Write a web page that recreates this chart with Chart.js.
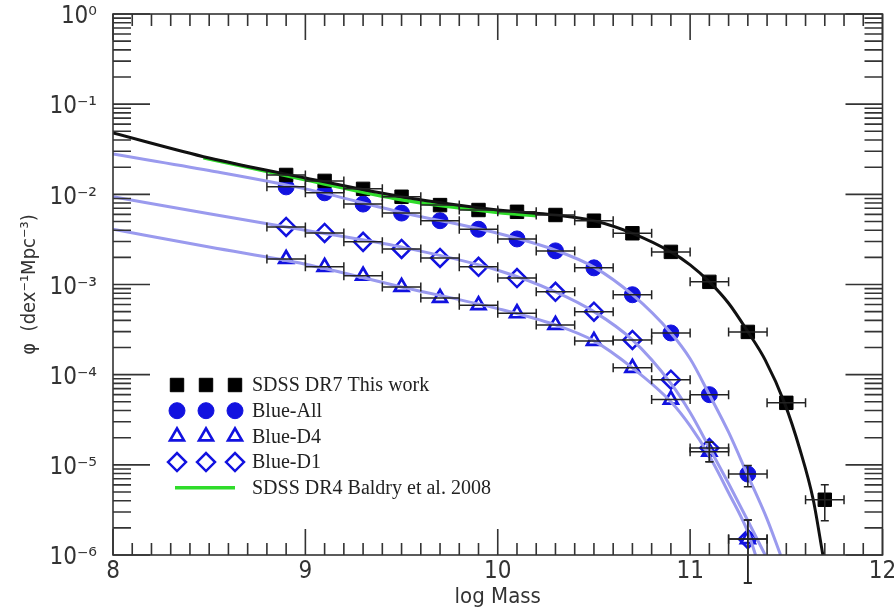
<!DOCTYPE html>
<html>
<head>
<meta charset="utf-8">
<script src="https://cdn.jsdelivr.net/npm/chart.js@4.4.1/dist/chart.umd.min.js"></script>
<style>
  html, body { margin: 0; padding: 0; background: #fff; }
  canvas { display: block; }
</style>
</head>
<body>
<canvas id="mf" width="894" height="610"></canvas>
<script>
// half width of every mass bin (dex)
const X_ERR = 0.1;

// measured mass function, SDSS DR7
const dr7Mass = [8.9, 9.1, 9.3, 9.5, 9.7, 9.9, 10.1, 10.3, 10.5, 10.7, 10.9, 11.1, 11.3, 11.5, 11.7];
const dr7Phi = [0.0164, 0.0141, 0.0115, 0.0094, 0.0076, 0.0067, 0.0064, 0.0059, 0.0051, 0.0037,
                0.0023, 0.00107, 2.98e-4, 4.87e-5, 4.1e-6];
const dr7PhiErr = [null, null, null, null, null, null, null, null, null, null,
                   null, null, null, null, [2.4e-6, 6.0e-6]];

// blue galaxy subsamples
const blueMass = [8.9, 9.1, 9.3, 9.5, 9.7, 9.9, 10.1, 10.3, 10.5, 10.7, 10.9, 11.1, 11.3];
const blueAllPhi = [0.0121, 0.0104, 0.0078, 0.0062, 0.0051, 0.0041, 0.0032, 0.00236, 0.00153,
                    7.7e-4, 2.9e-4, 6.0e-5, 7.9e-6];
const blueAllErr = [null, null, null, null, null, null, null, null, null, null, null, null,
                    [5.7e-6, 9.8e-6]];
const blueD4Phi = [0.00192, 0.00157, 0.00125, 9.4e-4, 7.1e-4, 5.9e-4, 4.8e-4, 3.56e-4, 2.37e-4,
                   1.19e-4, 5.3e-5, 1.4e-5, 1.5e-6];
const blueD4Err = [null, null, null, null, null, null, null, null, null, null, null,
                   [1.08e-5, 1.78e-5], [4.9e-7, 2.45e-6]];
const blueD1Phi = [0.00435, 0.00373, 0.00297, 0.00248, 0.00197, 0.00157, 0.00118, 8.3e-4, 5.0e-4,
                   2.43e-4, 8.8e-5, 1.54e-5, 1.5e-6];
const blueD1Err = [null, null, null, null, null, null, null, null, null, null, null,
                   [1.08e-5, 1.78e-5], [4.9e-7, 2.45e-6]];

// Schechter fits
const dr7FitMass = [8.0, 8.5, 9.0, 9.5, 10.0, 10.3, 10.5, 10.7, 10.9, 11.0, 11.1, 11.2, 11.3,
                    11.39, 11.49, 11.57, 11.64, 11.69];
const dr7FitPhi = [0.048, 0.0253, 0.0152, 0.0094, 0.0067, 0.0059, 0.0051, 0.0037, 0.0023, 0.00165,
                   0.00107, 6.2e-4, 3.0e-4, 1.46e-4, 4.9e-5, 1.5e-5, 4.1e-6, 1.0e-6];
const blueAllFitMass = [8.0, 8.5, 9.0, 9.5, 10.0, 10.3, 10.5, 10.7, 10.9, 11.0, 11.1, 11.2, 11.3,
                        11.4, 11.47];
const blueAllFitPhi = [0.028, 0.0184, 0.0115, 0.0063, 0.0037, 0.0024, 0.00156, 7.7e-4, 2.9e-4,
                       1.5e-4, 6.0e-5, 2.3e-5, 7.6e-6, 2.5e-6, 1.0e-6];
const blueD1FitMass = [8.0, 8.5, 9.0, 9.5, 10.0, 10.3, 10.5, 10.7, 10.9, 11.0, 11.1, 11.2, 11.3, 11.39];
const blueD1FitPhi = [0.0094, 0.0061, 0.0040, 0.0026, 0.00144, 8.3e-4, 5.0e-4, 2.43e-4, 8.0e-5,
                      3.8e-5, 1.55e-5, 6.2e-6, 2.4e-6, 1.0e-6];
const blueD4FitMass = [8.0, 8.5, 9.0, 9.5, 10.0, 10.3, 10.5, 10.7, 10.9, 11.0, 11.1, 11.2, 11.3, 11.34];
const blueD4FitPhi = [0.0041, 0.0026, 0.00168, 9.4e-4, 5.4e-4, 3.56e-4, 2.37e-4, 1.19e-4, 5.0e-5,
                      2.7e-5, 1.25e-5, 4.9e-6, 1.8e-6, 1.0e-6];

// Baldry et al. 2008 DR4 fit
const dr4FitMass = [8.47, 9.0, 9.5, 10.0, 10.2];
const dr4FitPhi = [0.0255, 0.0145, 0.0087, 0.0063, 0.0058];

const X_MIN = 8, X_MAX = 12;
const Y_MIN_EXP = -6, Y_MAX_EXP = 0;

const BLUE = '#1212e0';
const CURVE = '#9a9aee';
const GREEN = '#2fdc2a';
const AXIS_FONT = "'DejaVu Sans Condensed', 'Liberation Sans Narrow', 'DejaVu Sans', sans-serif";

function pts(xs, ys) {
    return xs.map((x, i) => ({ x: x, y: ys[i] }));
}

const SUP = { '-': '\u207B', '0': '\u2070', '1': '\u00B9', '2': '\u00B2', '3': '\u00B3',
              '4': '\u2074', '5': '\u2075', '6': '\u2076' };
function decadeLabel(v) {
    const e = String(Math.round(Math.log10(v)));
    return '10' + e.split('').map(c => SUP[c]).join('');
}

function fitLine(xs, ys, color, width, order) {
    return {
        type: 'line',
        data: pts(xs, ys),
        borderColor: color,
        borderWidth: width,
        pointRadius: 0,
        fill: false,
        cubicInterpolationMode: 'monotone',
        order: order
    };
}

function markers(label, xs, ys, errs, style) {
    return Object.assign({
        type: 'scatter',
        label: label,
        data: pts(xs, ys),
        showLine: false,
        order: 2,
        xErr: X_ERR,
        yErr: errs
    }, style);
}

const squareStyle = { pointStyle: 'rect', pointRadius: 9.5, backgroundColor: '#000', borderColor: '#000', borderWidth: 1 };
const circleStyle = { pointStyle: 'circle', pointRadius: 8, backgroundColor: BLUE, borderColor: BLUE, borderWidth: 1 };
const triangleStyle = { pointStyle: 'triangle', pointRadius: 8, backgroundColor: 'rgba(0,0,0,0)', borderColor: BLUE, borderWidth: 2.7 };
const diamondStyle = { pointStyle: 'rectRot', pointRadius: 9, backgroundColor: 'rgba(0,0,0,0)', borderColor: BLUE, borderWidth: 2.5 };

/** horizontal and vertical error bars with caps **/
const errorBars = {
    id: 'errorBars',
    afterDatasetsDraw(chart) {
        const { ctx, scales: { x, y } } = chart;
        ctx.save();
        ctx.strokeStyle = '#222';
        ctx.lineWidth = 1.5;
        chart.data.datasets.forEach((ds, di) => {
            if (!ds.xErr) return;
            const meta = chart.getDatasetMeta(di);
            meta.data.forEach((pt, i) => {
                const d = ds.data[i];
                const cx = pt.x, cy = pt.y;
                const x0 = x.getPixelForValue(d.x - ds.xErr);
                const x1 = x.getPixelForValue(d.x + ds.xErr);
                ctx.beginPath();
                ctx.moveTo(x0, cy); ctx.lineTo(x1, cy);
                ctx.moveTo(x0, cy - 4.5); ctx.lineTo(x0, cy + 4.5);
                ctx.moveTo(x1, cy - 4.5); ctx.lineTo(x1, cy + 4.5);
                const e = ds.yErr && ds.yErr[i];
                if (e) {
                    const y0 = y.getPixelForValue(e[0]);
                    const y1 = y.getPixelForValue(e[1]);
                    ctx.moveTo(cx, y0); ctx.lineTo(cx, y1);
                    ctx.moveTo(cx - 4, y0); ctx.lineTo(cx + 4, y0);
                    ctx.moveTo(cx - 4, y1); ctx.lineTo(cx + 4, y1);
                }
                ctx.stroke();
            });
        });
        ctx.restore();
    }
};

/** box with inward ticks on all four sides **/
const frameTicks = {
    id: 'frameTicks',
    afterDatasetsDraw(chart) {
        const { ctx, chartArea: a, scales: { x, y } } = chart;
        ctx.save();
        ctx.strokeStyle = '#333';
        ctx.lineWidth = 1.6;
        ctx.strokeRect(a.left, a.top, a.right - a.left, a.bottom - a.top);
        ctx.beginPath();
        for (let i = X_MIN * 10; i <= X_MAX * 10; i++) {
            const px = x.getPixelForValue(i / 10);
            const len = i % 10 === 0 ? 26 : 12;
            ctx.moveTo(px, a.bottom); ctx.lineTo(px, a.bottom - len);
            ctx.moveTo(px, a.top); ctx.lineTo(px, a.top + len);
        }
        for (let e = Y_MIN_EXP; e <= Y_MAX_EXP; e++) {
            for (let m = 1; m <= 9; m++) {
                if (e === Y_MAX_EXP && m > 1) break;
                const py = y.getPixelForValue(m * Math.pow(10, e));
                const len = m === 1 ? 37 : 18;
                ctx.moveTo(a.left, py); ctx.lineTo(a.left + len, py);
                ctx.moveTo(a.right, py); ctx.lineTo(a.right - len, py);
            }
        }
        ctx.stroke();
        ctx.restore();
    }
};

/** legend inside the plot: three markers per row, then the label **/
const legendRows = [
    { text: 'SDSS DR7 This work', style: squareStyle },
    { text: 'Blue-All', style: circleStyle },
    { text: 'Blue-D4', style: triangleStyle },
    { text: 'Blue-D1', style: diamondStyle },
    { text: 'SDSS DR4 Baldry et al. 2008', line: GREEN }
];

const insideLegend = {
    id: 'insideLegend',
    afterDraw(chart) {
        const { ctx, chartArea: a } = chart;
        const top = a.top + 371, step = 25.7;
        const marks = [64, 93, 122];
        ctx.save();
        ctx.font = "20px 'Liberation Serif', 'Times New Roman', serif";
        ctx.textBaseline = 'middle';
        legendRows.forEach((row, i) => {
            const ry = top + i * step;
            if (row.line) {
                ctx.strokeStyle = row.line;
                ctx.lineWidth = 3.5;
                ctx.beginPath();
                ctx.moveTo(a.left + 62, ry);
                ctx.lineTo(a.left + 122, ry);
                ctx.stroke();
            } else {
                const s = row.style;
                marks.forEach(mx => {
                    ctx.fillStyle = s.backgroundColor;
                    ctx.strokeStyle = s.borderColor;
                    ctx.lineWidth = s.borderWidth;
                    Chart.helpers.drawPoint(ctx, {
                        pointStyle: s.pointStyle,
                        radius: s.pointRadius,
                        rotation: 0,
                        borderWidth: s.borderWidth
                    }, a.left + mx, ry);
                });
            }
            ctx.fillStyle = '#222';
            ctx.fillText(row.text, a.left + 139, ry + 1);
        });
        ctx.restore();
    }
};

new Chart(document.getElementById('mf'), {
    type: 'scatter',
    data: {
        datasets: [
            fitLine(dr7FitMass, dr7FitPhi, '#111', 3, 0),
            fitLine(dr4FitMass, dr4FitPhi, GREEN, 3.5, 1),
            fitLine(blueAllFitMass, blueAllFitPhi, CURVE, 3, 1),
            fitLine(blueD1FitMass, blueD1FitPhi, CURVE, 3, 1),
            fitLine(blueD4FitMass, blueD4FitPhi, CURVE, 3, 1),
            markers('SDSS DR7 This work', dr7Mass, dr7Phi, dr7PhiErr, squareStyle),
            markers('Blue-All', blueMass, blueAllPhi, blueAllErr, circleStyle),
            markers('Blue-D4', blueMass, blueD4Phi, blueD4Err, triangleStyle),
            markers('Blue-D1', blueMass, blueD1Phi, blueD1Err, diamondStyle)
        ]
    },
    options: {
        responsive: false,
        animation: false,
        layout: { padding: { top: 14, right: 9, left: 0, bottom: 0 } },
        plugins: {
            legend: { display: false },
            tooltip: { enabled: false }
        },
        scales: {
            x: {
                type: 'linear',
                min: X_MIN,
                max: X_MAX,
                grid: { display: false, drawTicks: false },
                border: { display: false },
                ticks: {
                    stepSize: 1,
                    autoSkip: false,
                    maxRotation: 0,
                    padding: 2,
                    color: '#333',
                    font: { family: AXIS_FONT, size: 24 },
                    callback: v => String(v)
                },
                title: {
                    display: true,
                    text: 'log Mass',
                    color: '#333',
                    font: { family: AXIS_FONT, size: 22 },
                    padding: { top: 0, bottom: 0 }
                },
                afterFit(s) {
                    s.height = 55;
                    s.paddingLeft = 0;
                    s.paddingRight = 0;
                }
            },
            y: {
                type: 'logarithmic',
                min: Math.pow(10, Y_MIN_EXP),
                max: Math.pow(10, Y_MAX_EXP),
                grid: { display: false, drawTicks: false },
                border: { display: false },
                afterBuildTicks(s) {
                    const t = [];
                    for (let e = Y_MIN_EXP; e <= Y_MAX_EXP; e++) t.push({ value: Math.pow(10, e) });
                    s.ticks = t;
                },
                ticks: {
                    padding: 16,
                    labelOffset: 3,
                    color: '#333',
                    font: { family: AXIS_FONT, size: 24 },
                    callback: v => decadeLabel(v)
                },
                title: {
                    display: true,
                    text: '\u03C6  (dex\u207B\u00B9Mpc\u207B\u00B3)',
                    color: '#333',
                    font: { family: AXIS_FONT, size: 20 },
                    padding: { top: 18, bottom: 0 }
                },
                afterFit(s) {
                    s.width = 113;
                    s.paddingTop = 0;
                    s.paddingBottom = 0;
                }
            }
        }
    },
    plugins: [errorBars, frameTicks, insideLegend]
});
</script>
</body>
</html>
